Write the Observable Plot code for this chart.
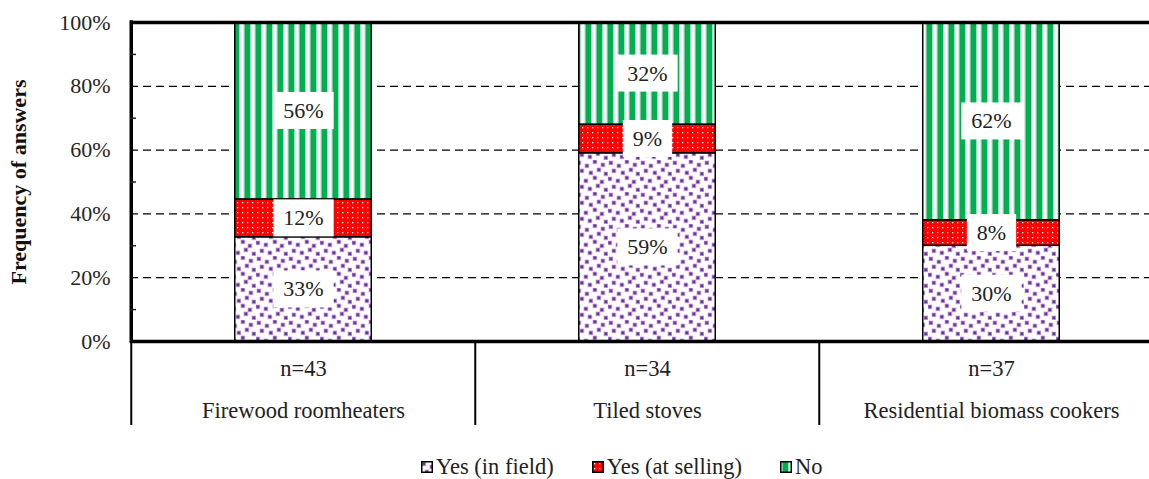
<!DOCTYPE html>
<html>
<head>
<meta charset="utf-8">
<script src="https://cdn.jsdelivr.net/npm/d3@7"></script>
<script src="https://cdn.jsdelivr.net/npm/@observablehq/plot@0.6"></script>
<style>
  html, body { margin: 0; background: #fff; }
  body { font-family: "Liberation Serif", "DejaVu Serif", serif; color: #222; }
  #chart svg { display: block; }
  #legend { display: flex; align-items: center; box-sizing: border-box; height: 33px; padding-top: 8px; padding-left: 421px; font-size: 22.5px; font-family: "Liberation Serif", "DejaVu Serif", serif; }
  #legend .item { display: flex; align-items: center; margin-right: 38px; }
  #legend svg { display: block; margin-right: 3px; }
</style>
</head>
<body>
<div id="chart"></div>
<div id="legend"></div>
<script>
// Stove categories and number of respondents per category
const categories = ["Firewood roomheaters", "Tiled stoves", "Residential biomass cookers"];
const sampleSizes = [43, 34, 37];

// Answer series (bottom to top in each stack)
const series = ["Yes (in field)", "Yes (at selling)", "No"];
const yesInField = [33, 59, 30];
const yesAtSelling = [12, 9, 8];
const no = [56, 32, 62];

// Axis ticks
const yTicks = [0, 0.2, 0.4, 0.6, 0.8, 1];
const yMinorTicks = [0.1, 0.3, 0.5, 0.7, 0.9];

// Pattern fills, one per series
const patternIds = ["pat-field", "pat-selling", "pat-no"];

// Long table for the stacked bars
const values = [yesInField, yesAtSelling, no];
const rows = [];
categories.forEach((category, i) => {
  series.forEach((s, j) => rows.push({category, series: s, value: values[j][i]}));
});

const serif = "Liberation Serif, DejaVu Serif, serif";
const width = 1149, height = 446;
const marginLeft = 130, marginTop = 22, marginBottom = 105;
const step = 344.5;                                   // width of each category band
const xRange = [marginLeft, marginLeft + step * categories.length];
const bandWidth = (xRange[1] - xRange[0]) / categories.length;
const barInset = (step - 137) / 2;

const stackOpts = {x: "category", y: "value", z: "series", offset: "normalize"};

const chart = Plot.plot({
  width, height, marginLeft, marginRight: 0, marginTop, marginBottom,
  style: {fontFamily: serif, fontSize: "21px", color: "#222", background: "white"},
  x: {domain: categories, range: xRange, padding: 0, axis: null},
  y: {domain: [0, 1], axis: null},
  color: {domain: series, range: patternIds.map(id => `url(#${id})`)},
  marks: [
    // dashed gridlines
    Plot.ruleY(yTicks.slice(1, -1), {stroke: "#000", strokeWidth: 1.3, strokeDasharray: "8,5"}),
    // stacked bars
    Plot.barY(rows, Plot.stackY({...stackOpts, fill: "series", stroke: "#000", strokeWidth: 1.5,
      insetLeft: barInset, insetRight: barInset})),
    // segment value labels
    Plot.text(rows, Plot.stackY({...stackOpts, text: d => d.value + "%", fill: "#222",
      fontSize: 22, ariaDescription: "segment labels"})),
    // plot frame: top and bottom
    Plot.ruleY([0, 1], {stroke: "#000", strokeWidth: 3.5}),
    // left axis line
    Plot.ruleX([categories[0]], {y1: 0, y2: 1, dx: -bandWidth / 2, stroke: "#000", strokeWidth: 3.5, strokeLinecap: "square"}),
    // category separators below the axis
    Plot.ruleX(categories, {y1: 0, y2: -0.2633, dx: -bandWidth / 2, stroke: "#000", strokeWidth: 2}),
    // y tick labels
    Plot.axisY({ticks: yTicks, tickFormat: d3.format(".0%"), tickSize: 0, tickPadding: 20,
      fontSize: 22, fill: "#262626", label: null}),
    // minor ticks pointing inward
    Plot.axisY({ticks: yMinorTicks, tickFormat: () => "", tickSize: -6, strokeWidth: 1.5, label: null}),
    // y axis title
    Plot.text(["Frequency of answers"], {frameAnchor: "left", textAnchor: "middle", rotate: -90, dx: -112,
      fontWeight: "bold", fontSize: 22, fill: "#111"}),
    // category labels
    Plot.text(categories, {x: d => d, text: (d, i) => "n=" + sampleSizes[i], frameAnchor: "bottom",
      lineAnchor: "middle", dy: 27, fontSize: 22.5, fill: "#222"}),
    Plot.text(categories, {x: d => d, text: d => d, frameAnchor: "bottom",
      lineAnchor: "middle", dy: 69, fontSize: 22.5, fill: "#222"})
  ]
});

document.getElementById("chart").append(chart);

// Pattern definitions
const svg = d3.select(chart);
const defs = svg.insert("defs", ":first-child");

// purple confetti squares on white
const pField = defs.append("pattern").attr("id", "pat-field")
  .attr("patternUnits", "userSpaceOnUse").attr("width", 32).attr("height", 32);
pField.append("rect").attr("width", 32).attr("height", 32).attr("fill", "#fff");
[[1, 1], [9, 4], [17, 0], [25, 3], [4, 9], [13, 11], [21, 8], [28, 12],
 [0, 17], [8, 19], [17, 16], [24, 20], [4, 25], [12, 27], [20, 24], [28, 28]]
  .forEach(([x, y]) =>
    pField.append("rect").attr("x", x).attr("y", y).attr("width", 3.8).attr("height", 3.8)
      .attr("fill", "#7030A0").attr("stroke", "#c2a6da").attr("stroke-width", 0.8));

// red with small white dots
const pSell = defs.append("pattern").attr("id", "pat-selling")
  .attr("patternUnits", "userSpaceOnUse").attr("width", 5).attr("height", 5);
pSell.append("rect").attr("width", 5).attr("height", 5).attr("fill", "#FF0000");
pSell.append("rect").attr("x", 2).attr("y", 2).attr("width", 1.3).attr("height", 1.3).attr("fill", "#fff");

// green vertical stripes
const pNo = defs.append("pattern").attr("id", "pat-no")
  .attr("patternUnits", "userSpaceOnUse").attr("width", 11).attr("height", 10);
pNo.append("rect").attr("width", 11).attr("height", 10).attr("fill", "#fff");
pNo.append("rect").attr("x", 1.5).attr("width", 1).attr("height", 10).attr("fill", "#9fe0bb");
pNo.append("rect").attr("x", 2.5).attr("width", 5.5).attr("height", 10).attr("fill", "#00B050");
pNo.append("rect").attr("x", 8).attr("width", 1).attr("height", 10).attr("fill", "#9fe0bb");

// White boxes behind the segment labels
svg.selectAll("g[aria-description='segment labels'] text").each(function () {
  const b = this.getBBox();
  const r = d3.select(this.parentNode).insert("rect", () => this)
    .attr("x", b.x - 10).attr("y", b.y - 6)
    .attr("width", b.width + 20).attr("height", b.height + 12)
    .attr("fill", "#fff");
  const t = this.getAttribute("transform");
  if (t) r.attr("transform", t);
});

// Legend
const legend = d3.select("#legend");
series.forEach((s, i) => {
  const item = legend.append("div").attr("class", "item");
  const sw = item.append("svg").attr("width", 12).attr("height", 12);
  sw.append("rect").attr("x", 0.75).attr("y", 0.75).attr("width", 10.5).attr("height", 10.5)
    .attr("fill", `url(#${patternIds[i]})`).attr("stroke", "#000").attr("stroke-width", 1.5);
  item.append("span").text(s);
});
</script>
</body>
</html>
